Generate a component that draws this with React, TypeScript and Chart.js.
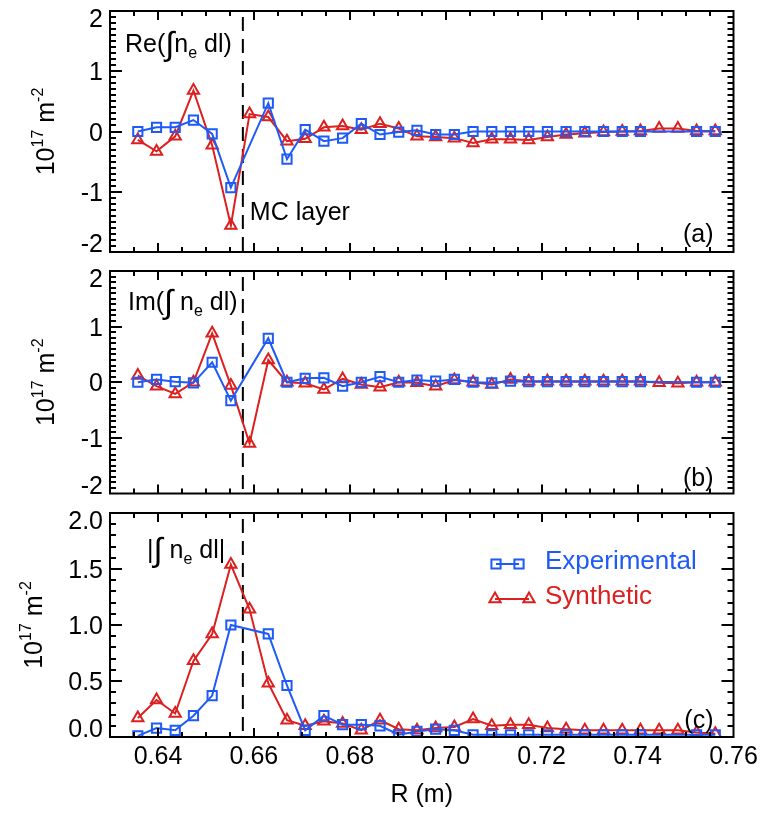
import React, { useEffect, useRef } from 'react';
import { Chart, registerables } from 'chart.js';
import { drawPoint } from 'chart.js/helpers';

Chart.register(...registerables);

// Chord major radius (m)
const R_M = [
  0.6358, 0.6397, 0.6436, 0.6474, 0.6513, 0.6552, 0.6591, 0.6630, 0.6669, 0.6707, 0.6746,
  0.6785, 0.6824, 0.6863, 0.6902, 0.6940, 0.6979, 0.7018, 0.7057, 0.7096, 0.7135, 0.7173,
  0.7212, 0.7251, 0.7290, 0.7329, 0.7368, 0.7406, 0.7445, 0.7484, 0.7523, 0.7562,
];

// Re of line-integrated density perturbation (1e17 m^-2)
const RE_EXP = [
  0.00, 0.07, 0.07, 0.19, -0.04, -0.93, null, 0.47, -0.46, 0.03, -0.16,
  -0.11, 0.13, -0.05, -0.01, 0.02, -0.05, -0.05, 0.00, 0.00, 0.00, 0.00,
  0.00, 0.00, 0.00, 0.00, 0.00, 0.00, null, null, 0.00, 0.00,
];
const RE_SYN = [
  -0.14, -0.33, -0.08, 0.68, -0.23, -1.56, 0.29, 0.24, -0.16, -0.12, 0.07,
  0.09, 0.03, 0.13, 0.05, -0.08, -0.09, -0.11, -0.19, -0.13, -0.13, -0.14,
  -0.09, -0.05, -0.03, -0.01, 0.00, 0.01, 0.05, 0.05, 0.01, 0.01,
];

// Im of line-integrated density perturbation (1e17 m^-2)
const IM_EXP = [
  0.00, 0.05, 0.01, -0.01, 0.36, -0.33, null, 0.79, 0.00, 0.07, 0.08,
  -0.07, 0.00, 0.10, 0.00, 0.04, 0.02, 0.05, 0.00, -0.01, 0.02, 0.01,
  0.01, 0.01, 0.01, 0.01, 0.01, 0.01, null, null, 0.00, 0.00,
];
const IM_SYN = [
  0.12, -0.07, -0.21, 0.00, 0.88, -0.06, -1.10, 0.40, 0.00, -0.02, -0.13,
  0.06, -0.04, -0.09, 0.00, -0.01, -0.07, 0.04, 0.00, -0.04, 0.05, 0.02,
  0.02, 0.02, 0.02, 0.02, 0.02, 0.02, -0.01, -0.02, 0.00, 0.00,
];

// Amplitude of line-integrated density perturbation (1e17 m^-2)
const ABS_EXP = [
  0.01, 0.08, 0.06, 0.19, 0.37, 1.00, null, 0.92, 0.46, 0.06, 0.19,
  0.11, 0.11, 0.10, 0.02, 0.05, 0.07, 0.06, 0.02, 0.02, 0.02, 0.02,
  0.02, 0.02, 0.02, 0.02, 0.02, 0.02, null, null, 0.02, 0.02,
];
const ABS_SYN = [
  0.17, 0.33, 0.21, 0.68, 0.92, 1.54, 1.14, 0.48, 0.15, 0.10, 0.14,
  0.12, 0.06, 0.15, 0.07, 0.06, 0.08, 0.09, 0.16, 0.10, 0.11, 0.11,
  0.08, 0.07, 0.06, 0.06, 0.06, 0.06, 0.06, 0.06, 0.04, 0.03,
];

const X_TICKS = [0.64, 0.66, 0.68, 0.70, 0.72, 0.74, 0.76];
const Y_TICKS_SIGNED = [-2, -1, 0, 1, 2];
const Y_TICKS_ABS = [0.0, 0.5, 1.0, 1.5, 2.0];
const MC_LAYER_R = 0.6577;

const SERIES_NAMES = ['Experimental', 'Synthetic'];

const BLUE = '#1e5af5';
const RED = '#dc2020';
const FONT = '"Liberation Sans", Arial, Helvetica, sans-serif';
const FS = 25;
const MARK_R = 6.5;

type Piece = { t: string; size: number; dy?: number };

const RE_LABEL: Piece[] = [
  { t: 'Re(', size: FS }, { t: '\u222B', size: 33, dy: 3 }, { t: 'n', size: FS },
  { t: 'e', size: 16, dy: 6 }, { t: ' dl)', size: FS },
];
const IM_LABEL: Piece[] = [
  { t: 'Im(', size: FS }, { t: '\u222B', size: 33, dy: 3 }, { t: ' n', size: FS },
  { t: 'e', size: 16, dy: 6 }, { t: ' dl)', size: FS },
];
const ABS_LABEL: Piece[] = [
  { t: '|', size: FS }, { t: '\u222B', size: 33, dy: 3 }, { t: ' n', size: FS },
  { t: 'e', size: 16, dy: 6 }, { t: ' dl|', size: FS },
];
const UNIT_LABEL: Piece[] = [
  { t: '10', size: FS }, { t: '17', size: 16, dy: -11 }, { t: ' m', size: FS }, { t: '-2', size: 16, dy: -11 },
];

interface PanelSpec {
  top: number;
  height: number;
  padTop: number;
  padBottom: number;
  exp: (number | null)[];
  syn: number[];
  yMin: number;
  yMax: number;
  yTicks: number[];
  yDecimals: number;
  label: Piece[];
  labelDx: number;
  labelDy: number;
  tag: string;
  tagDy: number;
  showX: boolean;
  unitX: number;
  mcText: boolean;
  legend: boolean;
}

const PANELS: PanelSpec[] = [
  {
    top: 0, height: 262, padTop: 11, padBottom: 10, exp: RE_EXP, syn: RE_SYN,
    yMin: -2, yMax: 2, yTicks: Y_TICKS_SIGNED, yDecimals: 0, label: RE_LABEL, labelDx: 15, labelDy: 41,
    tag: '(a)', tagDy: 10, showX: false, unitX: 54, mcText: true, legend: false,
  },
  {
    top: 262, height: 240, padTop: 9, padBottom: 8, exp: IM_EXP, syn: IM_SYN,
    yMin: -2, yMax: 2, yTicks: Y_TICKS_SIGNED, yDecimals: 0, label: IM_LABEL, labelDx: 18, labelDy: 39,
    tag: '(b)', tagDy: 8, showX: false, unitX: 54, mcText: false, legend: false,
  },
  {
    top: 502, height: 316, padTop: 11, padBottom: 0, exp: ABS_EXP, syn: ABS_SYN,
    yMin: 0, yMax: 2, yTicks: Y_TICKS_ABS, yDecimals: 1, label: ABS_LABEL, labelDx: 37, labelDy: 45,
    tag: '(c)', tagDy: 9, showX: true, unitX: 42, mcText: false, legend: true,
  },
];

function piecesWidth(ctx: CanvasRenderingContext2D, pieces: Piece[]) {
  let w = 0;
  for (const p of pieces) {
    ctx.font = `${p.size}px ${FONT}`;
    w += ctx.measureText(p.t).width;
  }
  return w;
}

function drawPieces(ctx: CanvasRenderingContext2D, pieces: Piece[], x: number, y: number, color: string) {
  let cx = x;
  ctx.fillStyle = color;
  ctx.textAlign = 'left';
  ctx.textBaseline = 'alphabetic';
  for (const p of pieces) {
    ctx.font = `${p.size}px ${FONT}`;
    ctx.fillText(p.t, cx, y + (p.dy || 0));
    cx += ctx.measureText(p.t).width;
  }
}

function makeDecor(spec: PanelSpec) {
  return {
    id: 'panelDecor',
    beforeDatasetsDraw(chart: Chart) {
      const { ctx, chartArea: a } = chart;
      const px = chart.scales.x.getPixelForValue(MC_LAYER_R);
      ctx.save();
      ctx.strokeStyle = '#000';
      ctx.lineWidth = 2;
      ctx.setLineDash([14, 8]);
      ctx.beginPath();
      ctx.moveTo(px, a.top + 6);
      ctx.lineTo(px, a.bottom);
      ctx.stroke();
      ctx.restore();
    },
    afterDraw(chart: Chart) {
      const { ctx, chartArea: a } = chart;
      const xs = chart.scales.x;
      const ys = chart.scales.y;
      ctx.save();

      // frame
      ctx.strokeStyle = '#000';
      ctx.lineWidth = 2;
      ctx.strokeRect(a.left, a.top, a.right - a.left, a.bottom - a.top);

      // inward tick marks on all four sides
      ctx.beginPath();
      for (let k = 127; k < 152; k++) {
        const v = k * 0.005;
        const major = k % 4 === 0;
        const len = major ? 9 : 5;
        const p = Math.round(xs.getPixelForValue(v));
        ctx.moveTo(p, a.bottom); ctx.lineTo(p, a.bottom - len);
        ctx.moveTo(p, a.top); ctx.lineTo(p, a.top + len);
      }
      const k0 = Math.round(spec.yMin * 10);
      const k1 = Math.round(spec.yMax * 10);
      for (let k = k0 + 1; k < k1; k++) {
        const v = k / 10;
        const major = spec.yTicks.some((t) => Math.abs(t - v) < 1e-6);
        const len = major ? 12 : 6;
        const p = Math.round(ys.getPixelForValue(v));
        ctx.moveTo(a.left, p); ctx.lineTo(a.left + len, p);
        ctx.moveTo(a.right, p); ctx.lineTo(a.right - len, p);
      }
      ctx.stroke();

      // y tick labels
      ctx.font = `${FS}px ${FONT}`;
      ctx.fillStyle = '#000';
      ctx.textAlign = 'right';
      ctx.textBaseline = 'alphabetic';
      const n = ys.ticks.length;
      ys.ticks.forEach((t, i) => {
        let y = ys.getPixelForValue(t.value);
        if (i === 0) y -= 9;
        else if (i === n - 1) y += 7;
        ctx.fillText(Number(t.value).toFixed(spec.yDecimals), a.left - 7, y + 9);
      });

      // y axis unit title (rotated)
      ctx.save();
      const cy = (a.top + a.bottom) / 2;
      ctx.translate(spec.unitX, cy);
      ctx.rotate(-Math.PI / 2);
      const uw = piecesWidth(ctx, UNIT_LABEL);
      drawPieces(ctx, UNIT_LABEL, -uw / 2, 0, '#000');
      ctx.restore();

      // quantity label
      drawPieces(ctx, spec.label, a.left + spec.labelDx, a.top + spec.labelDy, '#000');

      // panel tag
      ctx.font = `${FS}px ${FONT}`;
      ctx.fillStyle = '#000';
      ctx.textAlign = 'right';
      ctx.textBaseline = 'alphabetic';
      ctx.fillText(spec.tag, a.right - 20, a.bottom - spec.tagDy);

      if (spec.mcText) {
        const px = xs.getPixelForValue(MC_LAYER_R);
        ctx.textAlign = 'left';
        ctx.fillText('MC layer', px + 7, a.top + 209);
      }

      if (spec.legend) {
        const rows = [
          { name: SERIES_NAMES[0], color: BLUE, style: 'rect', x0: 496, x1: 519, y: 62 },
          { name: SERIES_NAMES[1], color: RED, style: 'triangle', x0: 495, x1: 529, y: 97 },
        ];
        for (const r of rows) {
          ctx.strokeStyle = r.color;
          ctx.lineWidth = 2;
          ctx.beginPath();
          ctx.moveTo(r.x0, r.y);
          ctx.lineTo(r.x1, r.y);
          ctx.stroke();
          const opts: any = {
            pointStyle: r.style, radius: MARK_R, borderWidth: 2, rotation: 0,
          };
          ctx.fillStyle = 'rgba(0,0,0,0)';
          ctx.strokeStyle = r.color;
          drawPoint(ctx, opts, r.x0, r.y);
          drawPoint(ctx, opts, r.x1, r.y);
          ctx.font = `26px ${FONT}`;
          ctx.fillStyle = r.color;
          ctx.textAlign = 'left';
          ctx.textBaseline = 'alphabetic';
          ctx.fillText(r.name, 545, r.y + 5);
        }
      }

      ctx.restore();
    },
  };
}

function Panel({ spec }: { spec: PanelSpec }) {
  const ref = useRef<HTMLCanvasElement>(null);

  useEffect(() => {
    const canvas = ref.current;
    if (!canvas) return;
    Chart.defaults.font.family = FONT;
    const chart = new Chart(canvas, {
      type: 'line',
      data: {
        datasets: [
          {
            label: SERIES_NAMES[0],
            data: R_M.map((x, i) => ({ x, y: spec.exp[i] })) as any,
            borderColor: BLUE,
            backgroundColor: 'rgba(0,0,0,0)',
            borderWidth: 2,
            pointStyle: 'rect',
            pointRadius: MARK_R,
            pointBorderWidth: 2,
            pointBorderColor: BLUE,
            pointBackgroundColor: 'rgba(0,0,0,0)',
            spanGaps: true,
            tension: 0,
            fill: false,
            clip: 0,
          },
          {
            label: SERIES_NAMES[1],
            data: R_M.map((x, i) => ({ x, y: spec.syn[i] })),
            borderColor: RED,
            backgroundColor: 'rgba(0,0,0,0)',
            borderWidth: 2,
            pointStyle: 'triangle',
            pointRadius: MARK_R,
            pointBorderWidth: 2,
            pointBorderColor: RED,
            pointBackgroundColor: 'rgba(0,0,0,0)',
            tension: 0,
            fill: false,
            clip: 0,
          },
        ],
      },
      options: {
        responsive: false,
        animation: false,
        events: [],
        layout: { padding: { top: spec.padTop, bottom: spec.padBottom, left: 0, right: 34.5 } },
        plugins: { legend: { display: false }, tooltip: { enabled: false } },
        scales: {
          x: {
            type: 'linear',
            min: 0.63,
            max: 0.76,
            grid: { display: false, drawTicks: false },
            border: { display: false },
            ticks: {
              display: spec.showX,
              color: '#000',
              font: { size: FS, family: FONT },
              padding: 5,
              maxRotation: 0,
              autoSkip: false,
              callback: (v: any) => Number(v).toFixed(2),
            },
            afterBuildTicks: (s: any) => {
              s.ticks = X_TICKS.map((value) => ({ value }));
            },
            afterFit: (s: any) => {
              s.height = spec.showX ? 81 : 0;
            },
            title: {
              display: spec.showX,
              text: 'R (m)',
              color: '#000',
              font: { size: FS, family: FONT },
              padding: { top: 0, bottom: 8 },
            },
          },
          y: {
            type: 'linear',
            min: spec.yMin,
            max: spec.yMax,
            grid: { display: false, drawTicks: false },
            border: { display: false },
            ticks: { display: false },
            afterBuildTicks: (s: any) => {
              s.ticks = spec.yTicks.map((value) => ({ value }));
            },
            afterFit: (s: any) => {
              s.width = 110;
            },
          },
        },
      },
      plugins: [makeDecor(spec) as any],
    });
    return () => chart.destroy();
  }, [spec]);

  return (
    <canvas
      ref={ref}
      width={768}
      height={spec.height}
      style={{ position: 'absolute', left: 0, top: spec.top, width: 768, height: spec.height }}
    />
  );
}

export default function App() {
  return (
    <div style={{ position: 'absolute', left: 0, top: 0, width: 768, height: 818, background: '#fff' }}>
      {PANELS.map((spec, i) => (
        <Panel key={i} spec={spec} />
      ))}
    </div>
  );
}
